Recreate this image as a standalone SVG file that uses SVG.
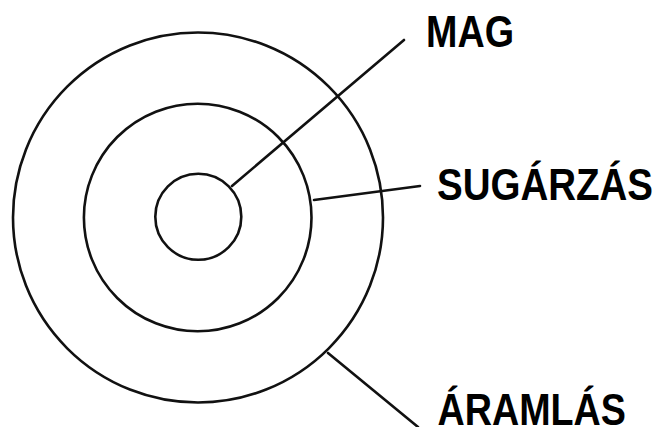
<svg xmlns="http://www.w3.org/2000/svg" width="659" height="427" viewBox="0 0 659 427">
<style>
.ring{fill:none;stroke:#111;stroke-width:2.6}
.lead{stroke:#111;stroke-width:2.6;fill:none;stroke-linecap:round}
.lbl{font-family:"Liberation Sans",Arial,sans-serif;font-weight:bold;font-size:44px;fill:#000}
</style>
<rect width="659" height="427" fill="#fff"/>
<g id="aramlas-ring"><circle class="ring" cx="198" cy="217.5" r="185"/></g>
<g id="sugarzas-ring"><circle class="ring" cx="197.7" cy="217.5" r="113.8"/></g>
<g id="mag-ring"><circle class="ring" cx="198.3" cy="216.8" r="43" stroke-width="2"/></g>
<g id="connectors">
<line class="lead" x1="232" y1="186" x2="404" y2="40"/>
<line class="lead" x1="314" y1="200" x2="420" y2="186"/>
<line class="lead" x1="328" y1="353" x2="418" y2="427"/>
</g>
<g id="mag"><text class="lbl" transform="translate(426 46.7) scale(0.857 1)">MAG</text></g>
<g id="sugarzas"><text class="lbl" transform="translate(437 200) scale(0.875 1)">SUGÁRZÁS</text></g>
<g id="aramlas"><text class="lbl" transform="translate(437.5 424.5) scale(0.857 1)">ÁRAMLÁS</text></g>
</svg>
